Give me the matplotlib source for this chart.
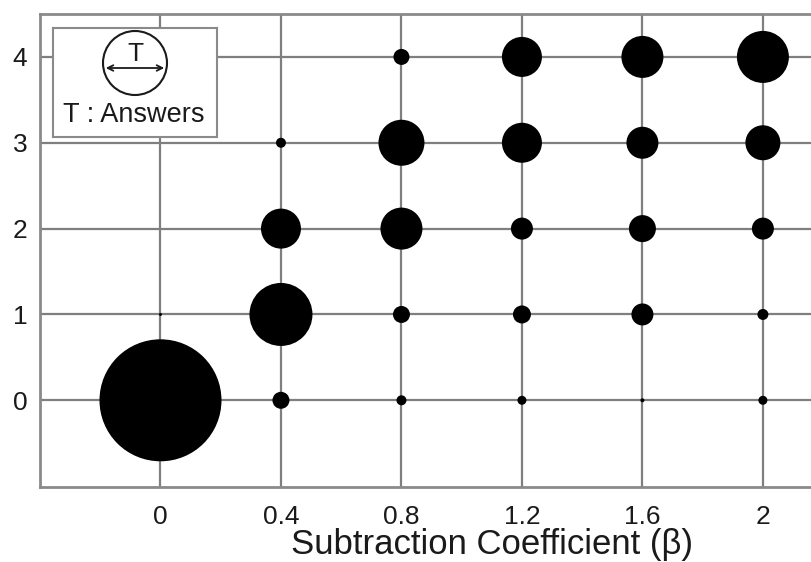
import matplotlib.pyplot as plt
from matplotlib.patches import Circle

plt.rcParams['font.family'] = ['Liberation Sans', 'DejaVu Sans']

# beta values on x, answer count category on y
beta = [0, 0.4, 0.8, 1.2, 1.6, 2]
levels = [0, 1, 2, 3, 4]
# bubble diameters (number of answers), one row per y level
answers = [
    [122, 17, 10, 9, 4, 9],
    [3, 63, 17, 18, 22, 11],
    [0, 40, 42, 22, 27, 22],
    [0, 10, 46, 40, 32, 35],
    [0, 0, 16, 40, 42, 52],
]
xticklabels = ['0', '0.4', '0.8', '1.2', '1.6', '2']

W, H = 812, 562
fig = plt.figure(figsize=(W / 100, H / 100), dpi=100)
ax = fig.add_axes([40 / W, 75 / H, 772 / W, 473 / H])

xs, ys, ss = [], [], []
for j, lv in enumerate(levels):
    for i, b in enumerate(beta):
        if answers[j][i] > 0:
            xs.append(b)
            ys.append(lv)
            ss.append((answers[j][i] * 0.72) ** 2)
ax.scatter(xs, ys, s=ss, c='black', edgecolors='none', zorder=3)

ax.set_xlim(-0.4, 2.163)
ax.set_ylim(-1.01, 4.5)
ax.set_xticks(beta)
ax.set_xticklabels(xticklabels)
ax.set_yticks(levels)
ax.grid(True, color='#7f7f7f', linewidth=1.6, zorder=1)
ax.set_axisbelow(True)
ax.tick_params(length=0, labelsize=19, colors='#1a1a1a')
ax.tick_params(axis='x', pad=13)
ax.tick_params(axis='y', pad=9)
for side in ['left', 'bottom', 'top']:
    ax.spines[side].set_color('#8a8a8a')
    ax.spines[side].set_linewidth(2)
ax.spines['right'].set_visible(False)
ax.set_xlabel('Subtraction Coefficient (β)', fontsize=25, color='#1a1a1a')
ax.xaxis.set_label_coords(0.585, -0.087)

# legend box explaining bubble size
lg = fig.add_axes([53 / W, (H - 137) / H, 164 / W, 109 / H])
lg.set_xlim(0, 164)
lg.set_ylim(109, 0)
lg.set_xticks([])
lg.set_yticks([])
for sp in lg.spines.values():
    sp.set_color('#8a8a8a')
    sp.set_linewidth(1.5)
lg.add_patch(Circle((82, 35), 32, fill=False, edgecolor='#1a1a1a', linewidth=1.5))
lg.annotate('', xy=(50, 40), xytext=(114, 40),
            arrowprops=dict(arrowstyle='<->', color='#1a1a1a', lw=1.3))
lg.text(82, 26, 'T', fontsize=19, ha='center', va='center', color='#1a1a1a')
lg.text(81, 87, 'T : Answers', fontsize=19.5, ha='center', va='center', color='#1a1a1a')

fig.savefig('out.png', dpi=100)
